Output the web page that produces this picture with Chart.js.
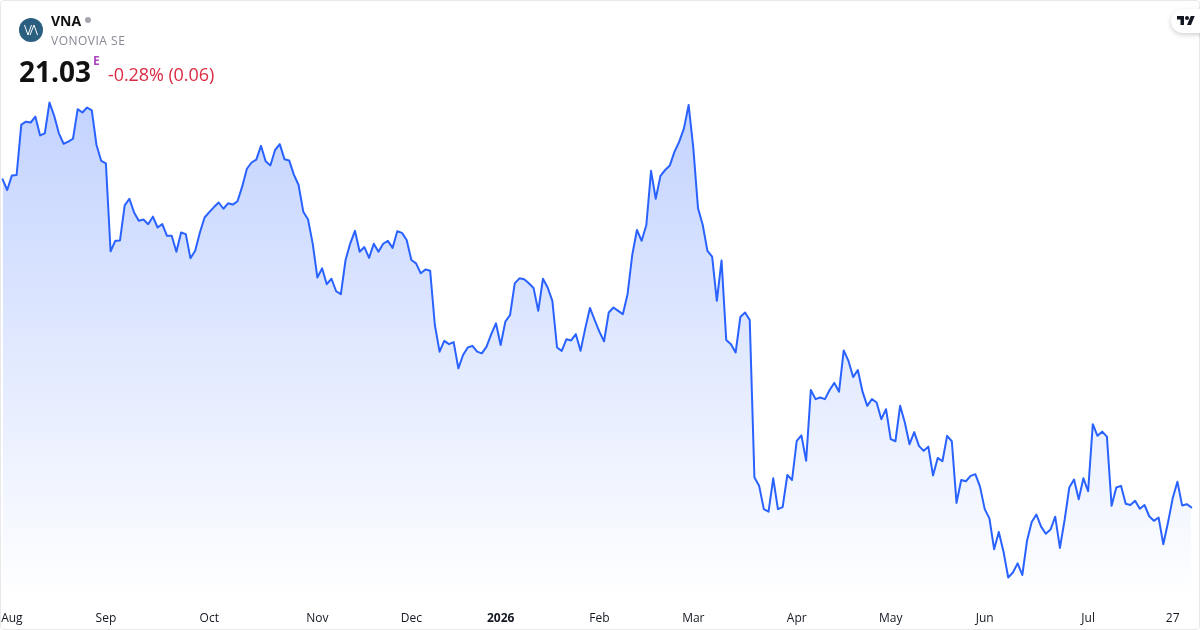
<!DOCTYPE html>
<html>
<head>
<meta charset="utf-8">
<title>VNA</title>
<script src="https://cdn.jsdelivr.net/npm/chart.js@4"></script>
<style>
  html, body { margin: 0; padding: 0; background: #fff; }
  #card { position: relative; width: 1200px; height: 630px; overflow: hidden; font-family: "Open Sans", sans-serif; color: #111; }
  #frame { position: absolute; inset: 0; border: 1px solid #e8e8ea; border-radius: 4px; box-sizing: border-box; pointer-events: none; }
  canvas { position: absolute; left: 0; top: 0; }
  .txt { position: absolute; white-space: nowrap; }
  #symbol { left: 51px; top: 12px; font-size: 14px; line-height: 18px; font-weight: 700; }
  #dot { position: absolute; left: 85px; top: 17px; width: 6px; height: 6px; border-radius: 50%; background: #a3a6af; }
  #name { left: 51px; top: 32px; font-size: 12px; line-height: 18px; color: #868993; letter-spacing: 0.5px; }
  #price { left: 19px; top: 52px; font-size: 28px; line-height: 38px; font-weight: 700; }
  #flag { left: 93px; top: 54px; font-size: 12px; line-height: 14px; font-weight: 700; color: #ab47bc; }
  #change { left: 108px; top: 62px; font-size: 18px; line-height: 25px; color: #d92b42; letter-spacing: -0.08px; }
  #badge { position: absolute; left: 1171px; top: 9px; width: 44px; height: 24px; border-radius: 12px; background: #fff; box-shadow: 0 2px 5px rgba(0,0,0,.18); }
</style>
</head>
<body>
<div id="card">
  <canvas id="chart" width="1200" height="630"></canvas>
  <div id="frame"></div>
  <svg style="position:absolute;left:19px;top:18px" width="24" height="24" viewBox="0 0 24 24">
    <circle cx="12" cy="12" r="12" fill="#2a5f80"/>
    <path d="M5.5 7 L9 17 L12.5 7 M11 17 L15 7 L18.5 17" fill="none" stroke="#fff" stroke-width="1"/>
  </svg>
  <div class="txt" id="symbol">VNA</div>
  <div id="dot"></div>
  <div class="txt" id="name">VONOVIA SE</div>
  <div class="txt" id="price">21.03</div>
  <div class="txt" id="flag">E</div>
  <div class="txt" id="change">-0.28% (0.06)</div>
  <div id="badge"></div>
  <svg style="position:absolute;left:1177px;top:14px" width="18" height="14" viewBox="0 0 36 28">
    <path d="M14 22H7V11H0V4h14v18zM28 22h-8l7.5-18h8L28 22z" fill="#131722"/>
    <circle cx="20" cy="8" r="4" fill="#131722"/>
  </svg>
</div>
<script>
// closing prices
const closes = [
  28.91, 28.65, 29.00, 29.01, 30.22, 30.29, 30.27, 30.41, 29.96, 30.01,
  30.75, 30.43, 30.01, 29.76, 29.81, 29.88, 30.59, 30.51, 30.63, 30.56,
  29.73, 29.35, 29.29, 27.18, 27.43, 27.44, 28.28, 28.44, 28.11, 27.91,
  27.94, 27.83, 28.01, 27.75, 27.83, 27.55, 27.55, 27.17, 27.63, 27.59,
  27.01, 27.19, 27.63, 27.99, 28.12, 28.24, 28.35, 28.20, 28.33, 28.30,
  28.38, 28.73, 29.16, 29.31, 29.38, 29.71, 29.34, 29.24, 29.61, 29.75,
  29.39, 29.36, 29.02, 28.77, 28.13, 27.95, 27.37, 26.55, 26.77, 26.39,
  26.52, 26.22, 26.15, 26.97, 27.37, 27.67, 27.17, 27.28, 27.02, 27.36,
  27.17, 27.36, 27.43, 27.26, 27.66, 27.62, 27.45, 26.97, 26.89, 26.65,
  26.74, 26.71, 25.41, 24.77, 25.03, 24.95, 25.00, 24.37, 24.69, 24.87,
  24.91, 24.77, 24.73, 24.89, 25.19, 25.45, 24.93, 25.49, 25.65, 26.41,
  26.53, 26.51, 26.41, 26.30, 25.75, 26.52, 26.31, 25.99, 24.87, 24.79,
  25.07, 25.04, 25.19, 24.79, 25.33, 25.82, 25.53, 25.25, 25.02, 25.71,
  25.83, 25.75, 25.67, 26.15, 27.09, 27.69, 27.43, 27.81, 29.11, 28.44,
  28.99, 29.13, 29.24, 29.57, 29.81, 30.13, 30.69, 29.65, 28.21, 27.81,
  27.19, 27.05, 25.99, 26.96, 25.05, 24.95, 24.75, 25.60, 25.71, 25.53,
  21.75, 21.55, 20.99, 20.93, 21.73, 20.99, 21.04, 21.81, 21.69, 22.63,
  22.76, 22.15, 23.85, 23.63, 23.67, 23.63, 23.85, 24.02, 23.81, 24.80,
  24.55, 24.16, 24.33, 23.81, 23.47, 23.63, 23.55, 23.15, 23.39, 22.67,
  22.62, 23.47, 23.07, 22.55, 22.84, 22.51, 22.39, 22.49, 21.80, 22.22,
  22.14, 22.75, 22.62, 21.14, 21.69, 21.66, 21.79, 21.83, 21.53, 20.99,
  20.77, 20.03, 20.44, 19.97, 19.35, 19.47, 19.69, 19.41, 20.23, 20.68,
  20.86, 20.57, 20.40, 20.50, 20.81, 20.06, 20.73, 21.51, 21.70, 21.23,
  21.73, 21.42, 23.03, 22.75, 22.85, 22.73, 21.07, 21.51, 21.55, 21.12,
  21.09, 21.19, 21.00, 21.09, 20.82, 20.71, 20.79, 20.15, 20.67, 21.25,
  21.65, 21.08, 21.11, 21.03
];

// which bar each axis label sits on
const tickIndexes = [2, 22, 44, 67, 87, 106, 127, 147, 169, 189, 209, 231, 249];
const tickLabels = ['Aug', 'Sep', 'Oct', 'Nov', 'Dec', '2026', 'Feb', 'Mar', 'Apr', 'May', 'Jun', 'Jul', '27'];

const labels = closes.map((_, i) => {
  const pos = tickIndexes.indexOf(i);
  return pos >= 0 ? tickLabels[pos] : '';
});

function areaFill(context) {
  const { ctx, chartArea } = context.chart;
  if (!chartArea) return 'rgba(41, 98, 255, 0.28)';
  const g = ctx.createLinearGradient(0, 102, 0, chartArea.bottom);
  g.addColorStop(0, 'rgba(41, 98, 255, 0.28)');
  g.addColorStop(1, 'rgba(41, 98, 255, 0)');
  return g;
}

new Chart(document.getElementById('chart'), {
  type: 'line',
  data: {
    labels,
    datasets: [{
      data: closes,
      borderColor: '#2962ff',
      borderWidth: 2,
      backgroundColor: areaFill,
      fill: 'start',
      pointRadius: 0,
      tension: 0,
      borderJoinStyle: 'round',
      borderCapStyle: 'round'
    }]
  },
  options: {
    responsive: false,
    animation: false,
    layout: { padding: { left: 2.5, right: 8.5, top: 90, bottom: 0 } },
    plugins: { legend: { display: false }, tooltip: { enabled: false } },
    scales: {
      x: {
        type: 'category',
        offset: false,
        grid: { display: false },
        border: { display: false },
        afterBuildTicks: axis => {
          axis.ticks = tickIndexes.map(v => ({ value: v }));
        },
        afterFit: axis => {
          axis.height = 30;
          axis.paddingLeft = 0;
          axis.paddingRight = 0;
        },
        ticks: {
          autoSkip: false,
          maxRotation: 0,
          padding: 3,
          color: '#131722',
          font: ctx => ({
            family: '"Open Sans", sans-serif',
            size: 12,
            weight: ctx.tick && ctx.tick.label === '2026' ? '700' : '400'
          })
        }
      },
      y: {
        display: false,
        min: 18.81,
        max: 31.05
      }
    }
  }
});
</script>
</body>
</html>
